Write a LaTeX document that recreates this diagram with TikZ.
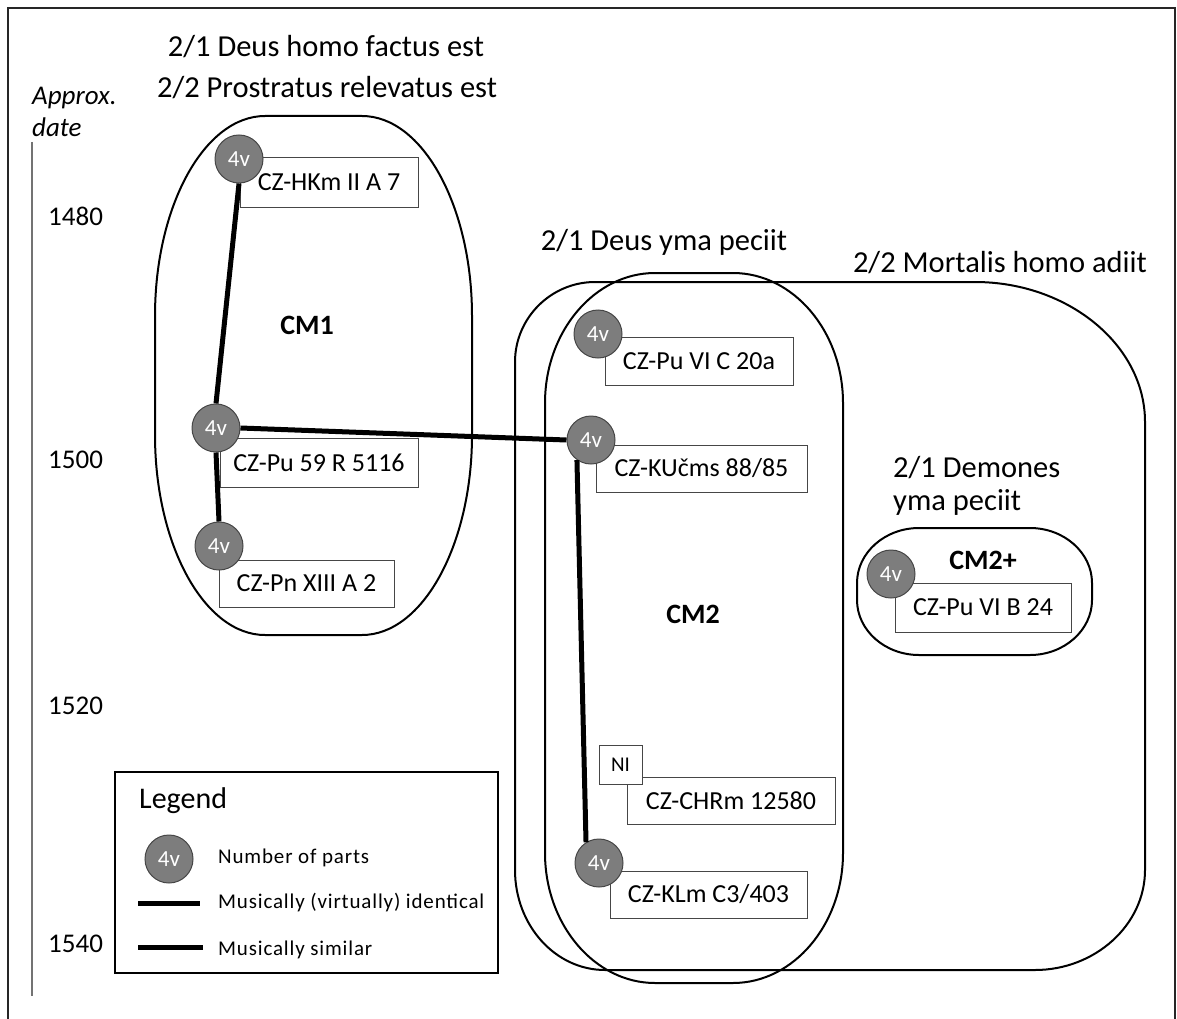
\documentclass[tikz,border=0pt]{standalone}
\usepackage{fontspec}
\setmainfont{Carlito}
\newfontfamily\legfont[LetterSpace=4]{Carlito}
\definecolor{vgray}{RGB}{125,125,125}
\definecolor{vedge}{RGB}{70,70,70}
\newcommand{\blobpath}[6]{(#1+#5,#2) -- (#3-#5,#2) .. controls (#3-#5*0.45,#2) and (#3,#2+#6*0.45) .. (#3,#2+#6) -- (#3,#4-#6) .. controls (#3,#4-#6*0.45) and (#3-#5*0.45,#4) .. (#3-#5,#4) -- (#1+#5,#4) .. controls (#1+#5*0.45,#4) and (#1,#4-#6*0.45) .. (#1,#4-#6) -- (#1,#2+#6) .. controls (#1,#2+#6*0.45) and (#1+#5*0.45,#2) .. (#1+#5,#2) -- cycle}
\begin{document}
\begin{tikzpicture}[x=1pt,y=-1pt,
  title/.style={font=\fontsize{30.5}{36}\selectfont, inner sep=0},
  yearlbl/.style={font=\fontsize{27}{32}\selectfont, inner sep=0, anchor=west},
  cmlbl/.style={font=\fontsize{28}{33}\selectfont\bfseries, inner sep=0},
  box/.style={draw=vedge, line width=1, fill=white, font=\fontsize{26}{30}\selectfont, inner sep=0},
  vc/.style={circle, draw=vedge, line width=1, fill=vgray, minimum size=48, inner sep=0, text=white, font=\fontsize{23}{27}\selectfont},
  blob/.style={line width=2},
  link/.style={line width=5},
  legtxt/.style={font=\legfont\fontsize{21}{25}\selectfont, inner sep=0, anchor=west}]
\useasboundingbox (0,0) rectangle (1177,1019);
% frame
\draw[line width=1.5, draw=black!85] (8,1019) -- (8,8) -- (1175,8) -- (1175,1019);
% axis
\draw[line width=1.2, draw=black!55] (32,142) -- (32,996);
\node[font=\fontsize{27}{32}\selectfont\itshape, inner sep=0, anchor=west] (apx) at (32,98) {Approx.};
\node[font=\fontsize{27}{32}\selectfont\itshape, inner sep=0, anchor=west] (dte) at (32,127) {date};
\node[yearlbl] (y1480) at (48,216) {1480};
\node[yearlbl] (y1500) at (48,460) {1500};
\node[yearlbl] (y1520) at (48,706) {1520};
\node[yearlbl] (y1540) at (48,944) {1540};
% titles
\node[title] (t1) at (326,47) {2/1 Deus homo factus est};
\node[title] (t2) at (327,88) {2/2 Prostratus relevatus est};
\node[title] (t3) at (664,242) {2/1 Deus yma peciit};
\node[title] (t4) at (1000,263) {2/2 Mortalis homo adiit};
\node[title, anchor=west] (t5) at (893,468) {2/1 Demones};
\node[title, anchor=west] (t6) at (893,502) {yma peciit};
% loops
\draw[blob] \blobpath{155}{116}{472}{635}{110}{200};
\draw[blob] \blobpath{545}{273}{843}{983}{110}{130};
\draw[blob] (595,282) -- (975,282)
  .. controls (1068,282) and (1145,345) .. (1145,422) -- (1145,870)
  .. controls (1145,925) and (1095,970) .. (1035,970) -- (605,970)
  .. controls (555,970) and (515,925) .. (515,870) -- (515,362)
  .. controls (515,318) and (551,282) .. cycle;
\draw[blob] \blobpath{857}{528}{1092}{655}{62}{55};
\node[cmlbl] (cm1) at (307,325) {CM1};
\node[cmlbl] (cm2) at (693,614) {CM2};
\node[cmlbl] (cm2p) at (983,560) {CM2+};
% boxes
\node[box, minimum width=178, minimum height=49] (bHK) at (329,182.5) {CZ-HKm II A 7};
\node[box, minimum width=198, minimum height=49] (bP59) at (319,462.5) {CZ-Pu 59 R 5116};
\node[box, minimum width=175, minimum height=47] (bPn) at (306.5,583.5) {CZ-Pn XIII A 2};
\node[box, minimum width=188, minimum height=48] (bVIC) at (699,361) {CZ-Pu VI C 20a};
\node[box, minimum width=211, minimum height=47] (bKU) at (701.5,468.5) {CZ-KUčms 88/85};
\node[box, minimum width=208, minimum height=47] (bCH) at (731,800.5) {CZ-CHRm 12580};
\node[box, minimum width=43, minimum height=39, font=\fontsize{21}{25}\selectfont] (bNI) at (620.5,764.5) {NI};
\node[box, minimum width=197, minimum height=47] (bKL) at (708.5,894.5) {CZ-KLm C3/403};
\node[box, minimum width=176, minimum height=49] (bVIB) at (983,607.5) {CZ-Pu VI B 24};
% circles
\node[vc] (cHK) at (239,159) {4v};
\node[vc] (cP59) at (216,428) {4v};
\node[vc] (cPn) at (219,546) {4v};
\node[vc] (cVIC) at (598,334) {4v};
\node[vc] (cKU) at (591,440) {4v};
\node[vc] (cKL) at (599,863) {4v};
\node[vc] (cVIB) at (891,574) {4v};
% links
\draw[link] (cHK.south) -- (cP59.north);
\draw[link] (cP59.south) -- (cPn.north);
\draw[link] (cP59.east) -- (cKU.west);
\draw[link] (cKU.235) -- (cKL.122);
% legend
\node[draw, line width=2, minimum width=383, minimum height=201, inner sep=0] (leg) at (306.5,872.5) {};
\node[font=\fontsize{30}{35}\selectfont, inner sep=0, anchor=west] (legt) at (139,801) {Legend};
\node[vc] (legc) at (169,859) {4v};
\coordinate (l1a) at (138,903);
\coordinate (l1b) at (200,903);
\coordinate (l2a) at (138,947);
\coordinate (l2b) at (203,947);
\draw[link] (l1a) -- (l1b);
\draw[link] (l2a) -- (l2b);
\node[legtxt] (lt1) at (218,858) {Number of parts};
\node[legtxt] (lt2) at (218,903) {Musically (virtually) identical};
\node[legtxt] (lt3) at (218,950) {Musically similar};
\end{tikzpicture}
\end{document}
